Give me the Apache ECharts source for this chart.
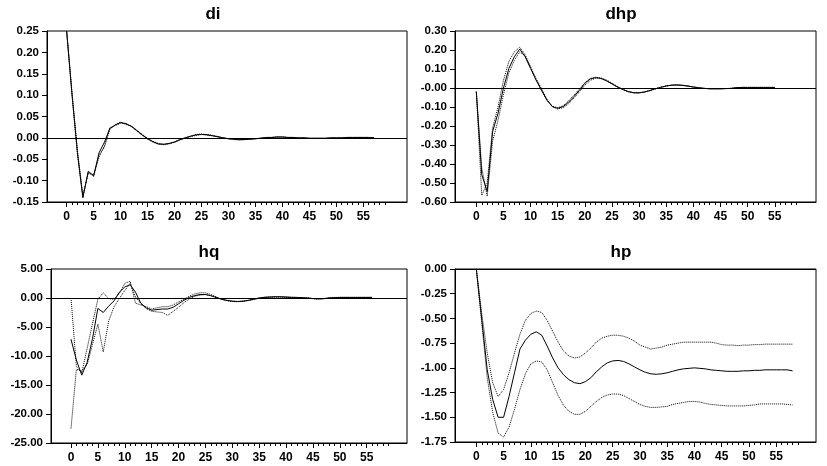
<!DOCTYPE html>
<html><head><meta charset="utf-8">
<script src="https://cdn.jsdelivr.net/npm/echarts@6/dist/echarts.min.js"></script>
<style>html,body{margin:0;padding:0;background:#fff}#c{width:827px;height:466px}</style>
</head><body><div id="c"></div>
<script>
// ---- data ----
const periods = [0,1,2,3,4,5,6,7,8,9,10,11,12,13,14,15,16,17,18,19,20,21,22,23,24,25,26,27,28,29,30,31,32,33,34,35,36,37,38,39,40,41,42,43,44,45,46,47,48,49,50,51,52,53,54,55,56,57,58,59];
const xLabelTicks = [0,5,10,15,20,25,30,35,40,45,50,55];
const panelTitles = ['di','dhp','hq','hp'];

const diMid = [0.249,0.100,-0.035,-0.140,-0.078,-0.089,-0.035,-0.010,0.022,0.030,0.036,0.033,0.027,0.017,0.007,-0.002,-0.009,-0.014,-0.015,-0.013,-0.010,-0.004,0.000,0.004,0.007,0.008,0.007,0.005,0.003,0.000,-0.002,-0.003,-0.004,-0.004,-0.003,-0.002,-0.001,0.001,0.001,0.002,0.002,0.001,0.001,0.000,0.000,-0.001,-0.001,-0.001,-0.001,0.000,0.000,0.000,0.001,0.001,0.001,0.001,0.001,0.000];
const diLo  = [0.249,0.105,-0.030,-0.135,-0.083,-0.086,-0.045,-0.018,0.024,0.029,0.034,0.034,0.026,0.016,0.006,-0.003,-0.010,-0.015,-0.016,-0.014,-0.010,-0.005,-0.001,0.003,0.006,0.008,0.008,0.006,0.003,0.000,-0.002,-0.004,-0.005,-0.004,-0.003,-0.002,-0.001,0.000,0.001,0.002,0.002,0.001,0.001,0.000,0.000,-0.001,-0.001,-0.001,-0.001,0.000,0.000,0.000,0.001,0.001,0.001,0.001,0.001,0.000];
const diHi  = [0.249,0.098,-0.040,-0.138,-0.080,-0.090,-0.040,-0.022,0.020,0.031,0.037,0.031,0.028,0.018,0.008,-0.001,-0.008,-0.013,-0.015,-0.013,-0.009,-0.004,0.001,0.004,0.008,0.009,0.007,0.005,0.002,0.000,-0.002,-0.003,-0.004,-0.004,-0.003,-0.002,0.000,0.001,0.001,0.002,0.002,0.001,0.001,0.000,0.000,-0.001,-0.001,-0.001,-0.001,0.000,0.000,0.000,0.001,0.001,0.001,0.001,0.001,0.000];

const dhpMid = [-0.019,-0.456,-0.544,-0.229,-0.133,0.000,0.103,0.164,0.205,0.164,0.103,0.042,-0.010,-0.063,-0.098,-0.107,-0.098,-0.075,-0.045,-0.012,0.025,0.048,0.055,0.050,0.038,0.022,0.006,-0.008,-0.019,-0.025,-0.025,-0.021,-0.013,-0.004,0.004,0.011,0.015,0.016,0.014,0.010,0.005,0.001,-0.002,-0.004,-0.004,-0.004,-0.003,-0.002,0.002,0.003,0.003,0.003,0.003,0.003,0.003,0.003];
const dhpLo  = [-0.020,-0.565,-0.500,-0.210,-0.100,0.040,0.140,0.190,0.215,0.175,0.110,0.045,-0.012,-0.065,-0.097,-0.104,-0.093,-0.068,-0.037,-0.005,0.028,0.050,0.056,0.050,0.037,0.021,0.005,-0.009,-0.020,-0.026,-0.026,-0.021,-0.013,-0.004,0.004,0.011,0.015,0.016,0.014,0.010,0.005,0.001,-0.002,-0.004,-0.004,-0.004,-0.003,-0.002,0.002,0.003,0.003,0.003,0.003,0.003,0.003,0.003];
const dhpHi  = [-0.020,-0.420,-0.570,-0.280,-0.170,-0.035,0.080,0.145,0.190,0.170,0.110,0.050,-0.003,-0.058,-0.097,-0.110,-0.104,-0.083,-0.053,-0.020,0.015,0.040,0.052,0.053,0.042,0.026,0.008,-0.007,-0.018,-0.024,-0.025,-0.021,-0.014,-0.005,0.003,0.010,0.014,0.016,0.014,0.011,0.006,0.002,-0.002,-0.004,-0.004,-0.004,-0.003,-0.002,0.002,0.003,0.003,0.003,0.003,0.003,0.003,0.003];

const hqMid = [-7.1,-10.7,-13.3,-11.1,-7.0,-1.8,-2.5,-1.4,-0.5,1.0,1.9,2.3,1.0,-0.9,-1.7,-2.1,-2.0,-1.9,-1.9,-1.6,-1.0,-0.4,0.1,0.4,0.6,0.6,0.4,0.1,-0.2,-0.4,-0.55,-0.6,-0.55,-0.4,-0.2,0.0,0.1,0.15,0.2,0.2,0.15,0.1,0.1,0.05,0.0,-0.1,-0.15,-0.1,0.0,0.05,0.1,0.1,0.1,0.1,0.1,0.1,0.1];
const hqLo  = [0.0,-11.8,-12.9,-8.7,-4.4,-0.2,0.9,-0.1,-0.2,0.8,2.5,2.9,-0.9,-1.2,-1.5,-1.9,-1.7,-1.5,-1.5,-1.2,-0.7,-0.2,0.3,0.7,0.9,0.9,0.6,0.2,-0.2,-0.45,-0.6,-0.65,-0.55,-0.4,-0.2,0.0,0.15,0.2,0.25,0.25,0.2,0.15,0.1,0.05,0.0,-0.1,-0.15,-0.15,0.0,0.05,0.1,0.1,0.1,0.1,0.1,0.1,0.1];
const hqHi  = [-22.5,-12.3,-12.6,-11.5,-8.0,-4.5,-9.3,-4.0,-1.5,-0.1,1.3,2.5,0.2,-1.0,-1.8,-2.3,-2.4,-2.5,-3.0,-2.3,-1.6,-0.8,-0.2,0.3,0.5,0.6,0.4,0.1,-0.25,-0.45,-0.55,-0.6,-0.55,-0.45,-0.25,-0.05,0.1,0.15,0.15,0.15,0.1,0.1,0.05,0.05,0.0,-0.1,-0.15,-0.1,0.0,0.1,0.1,0.1,0.1,0.1,0.1,0.1,0.1];

const hpMid = [0.00,-0.51,-1.02,-1.32,-1.50,-1.50,-1.29,-1.05,-0.81,-0.72,-0.66,-0.635,-0.67,-0.78,-0.90,-1.00,-1.07,-1.12,-1.15,-1.16,-1.14,-1.10,-1.04,-0.99,-0.95,-0.93,-0.925,-0.935,-0.96,-0.99,-1.02,-1.045,-1.06,-1.065,-1.06,-1.05,-1.035,-1.02,-1.01,-1.005,-1.00,-1.005,-1.01,-1.02,-1.025,-1.03,-1.035,-1.035,-1.035,-1.03,-1.03,-1.025,-1.025,-1.02,-1.02,-1.02,-1.02,-1.02,-1.03];
const hpUp  = [0.00,-0.45,-0.85,-1.15,-1.29,-1.22,-1.05,-0.85,-0.66,-0.52,-0.45,-0.425,-0.44,-0.52,-0.63,-0.74,-0.83,-0.88,-0.90,-0.89,-0.85,-0.80,-0.74,-0.70,-0.68,-0.67,-0.67,-0.68,-0.70,-0.73,-0.77,-0.79,-0.81,-0.80,-0.79,-0.77,-0.76,-0.75,-0.74,-0.74,-0.74,-0.74,-0.74,-0.74,-0.75,-0.765,-0.77,-0.77,-0.775,-0.77,-0.77,-0.765,-0.765,-0.76,-0.76,-0.76,-0.76,-0.76,-0.76];
const hpDn  = [0.00,-0.55,-1.10,-1.45,-1.66,-1.70,-1.60,-1.42,-1.22,-1.06,-0.96,-0.93,-0.94,-1.02,-1.15,-1.28,-1.38,-1.44,-1.47,-1.47,-1.44,-1.39,-1.34,-1.30,-1.275,-1.265,-1.265,-1.28,-1.31,-1.34,-1.37,-1.39,-1.40,-1.40,-1.395,-1.39,-1.37,-1.36,-1.35,-1.34,-1.34,-1.345,-1.36,-1.37,-1.375,-1.38,-1.385,-1.385,-1.385,-1.385,-1.38,-1.375,-1.365,-1.365,-1.365,-1.365,-1.365,-1.37,-1.375];

// y axis scales: [min, max, interval]
const yScales = [[-0.15,0.25,0.05],[-0.6,0.3,0.1],[-25,5,5],[-1.75,0,0.25]];
const seriesSets = [[diMid,diLo,diHi],[dhpMid,dhpLo,dhpHi],[hqMid,hqLo,hqHi],[hpMid,hpUp,hpDn]];

// ---- layout ----
const layouts = [
  {left:47, top:31, width:360, height:171, xmin:-3.65, xmax:63.1, tx:213, ty:6},
  {left:455, top:31, width:361, height:171, xmin:-3.93, xmax:62.6, tx:621, ty:6},
  {left:51, top:269, width:356, height:174, xmin:-3.72, xmax:62.5, tx:209, ty:244},
  {left:455, top:269, width:361, height:173, xmin:-3.91, xmax:62.3, tx:621, ty:244}
];
const FONT = 'Liberation Sans';

const grids = [], xAxes = [], yAxes = [], series = [], titles = [];
layouts.forEach((L, i) => {
  grids.push({left:L.left, top:L.top, width:L.width, height:L.height, show:true, borderColor:'#000', borderWidth:1, containLabel:false});
  xAxes.push({
    type:'value', gridIndex:i, min:L.xmin, max:L.xmax, position:'bottom',
    axisLine:{show:true, onZero:false, lineStyle:{color:'#000', width:1}},
    axisTick:{show:true, customValues:xLabelTicks, length:5, lineStyle:{color:'#000'}},
    axisLabel:{show:true, customValues:xLabelTicks, margin:9, color:'#000', fontFamily:FONT, fontSize:12, fontWeight:'bold', formatter:v=>String(Math.round(v))},
    splitLine:{show:false}
  });
  xAxes.push({
    type:'value', gridIndex:i, min:L.xmin, max:L.xmax, position:'bottom',
    axisLine:{show:false, onZero:false},
    axisTick:{show:true, customValues:periods, length:3, lineStyle:{color:'#000'}},
    axisLabel:{show:false},
    splitLine:{show:false}
  });
  const [mn, mx, st] = yScales[i];
  yAxes.push({
    type:'value', gridIndex:i, min:mn, max:mx, interval:st,
    axisLine:{show:true, onZero:false, lineStyle:{color:'#000', width:1}},
    axisTick:{show:true, length:5, lineStyle:{color:'#000'}},
    axisLabel:{color:'#000', fontFamily:FONT, fontSize:11.5, fontWeight:'bold', margin:8,
      formatter:v=>{ if (Math.abs(v) < 1e-9) return i===1 ? '-0.00' : '0.00'; return v.toFixed(2); }},
    splitLine:{show:false}
  });
  titles.push({text:panelTitles[i], left:L.tx, top:L.ty, textAlign:'center', padding:0,
    textStyle:{fontFamily:FONT, fontSize:17, fontWeight:'bold', color:'#000'}});
  const sets = seriesSets[i];
  [1,2].forEach(k => {
    series.push({type:'line', xAxisIndex:2*i, yAxisIndex:i, showSymbol:false, symbol:'none', silent:true,
      data: sets[k].map((v,j)=>[periods[j], v]),
      lineStyle:{color:'#000', width:1, type:[1,1]}});
  });
  series.push({type:'line', xAxisIndex:2*i, yAxisIndex:i, showSymbol:false, symbol:'none', silent:true,
    data: sets[0].map((v,j)=>[periods[j], v]),
    lineStyle:{color:'#000', width:1},
    markLine:{silent:true, symbol:['none','none'], label:{show:false}, lineStyle:{color:'#000', width:1, type:'solid'}, data:[{yAxis:0}]}
  });
});

const chart = echarts.init(document.getElementById('c'), null, {renderer:'canvas'});
chart.setOption({animation:false, backgroundColor:'#fff', title:titles, grid:grids, xAxis:xAxes, yAxis:yAxes, series:series});
</script></body></html>
